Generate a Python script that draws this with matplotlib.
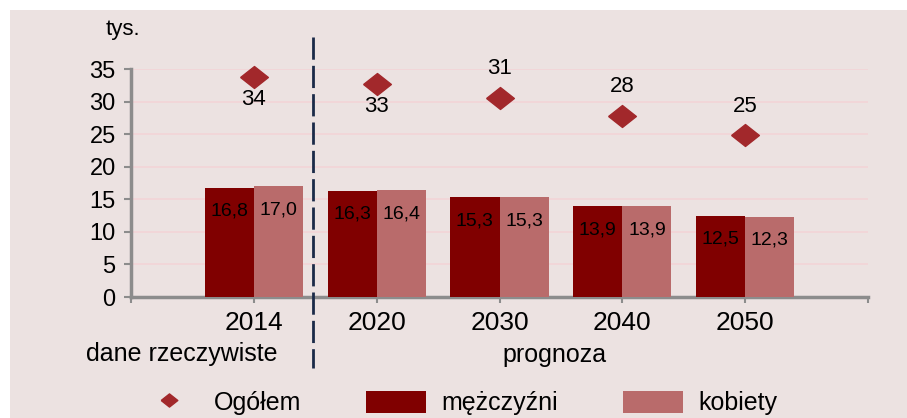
import matplotlib
matplotlib.use('Agg')
import matplotlib.pyplot as plt
from matplotlib.lines import Line2D
from matplotlib.patches import Patch, Rectangle
import matplotlib.transforms as mtransforms

plt.rcParams['font.family'] = ['Liberation Sans', 'DejaVu Sans']

### data
years = ['2014', '2020', '2030', '2040', '2050']
men = [16.8, 16.3, 15.3, 13.9, 12.5]
women = [17.0, 16.4, 15.3, 13.9, 12.3]
total = [33.8, 32.7, 30.6, 27.8, 24.8]
total_labels = ['34', '33', '31', '28', '25']

### colours
bg = '#ECE2E1'
c_men = '#800000'
c_women = '#B96B6B'
c_total = '#A2282B'
c_grid = '#F3D4D7'
c_axis = '#8C8C8C'

fig = plt.figure(figsize=(9.07, 4.18), dpi=100, facecolor='white')
fig.patches.append(Rectangle((10 / 907, 0), 1, 1 - 10 / 418, transform=fig.transFigure,
                             facecolor=bg, edgecolor='none', zorder=-10))

ax = fig.add_axes([131 / 907, 121 / 418, 737 / 907, 228 / 418])
ax.set_facecolor('none')

x = [i + 1 for i in range(len(years))]
w = 0.4
ax.bar([v - w / 2 for v in x], men, width=w, color=c_men, zorder=3)
ax.bar([v + w / 2 for v in x], women, width=w, color=c_women, zorder=3)

# bar value labels
for xi, m, f in zip(x, men, women):
    ax.annotate(('%.1f' % m).replace('.', ','), (xi - w / 2, m), xytext=(0, -17),
                textcoords='offset points', ha='center', va='center', fontsize=14, zorder=5)
    ax.annotate(('%.1f' % f).replace('.', ','), (xi + w / 2, f), xytext=(0, -17),
                textcoords='offset points', ha='center', va='center', fontsize=14, zorder=5)

# total diamonds
diamond = [(-1, 0), (0, 0.79), (1, 0), (0, -0.79), (-1, 0)]
ax.plot(x, total, ls='none', marker=diamond, ms=20, color=c_total, mec=c_total, zorder=4, clip_on=False)
for i, (xi, t, lab) in enumerate(zip(x, total, total_labels)):
    off = -16 if i < 2 else 21
    ax.annotate(lab, (xi, t), xytext=(0, off), textcoords='offset points',
                ha='center', va='center', fontsize=16, zorder=5)

### axes
ax.set_xlim(0, 6)
ax.set_ylim(0, 35)
ax.set_yticks(range(0, 36, 5))
ax.set_xticks(range(0, 7))
ax.set_xticklabels([''] + years + [''], fontsize=19)
ax.tick_params(axis='y', labelsize=17, length=5, width=1.5, color=c_axis, pad=6)
ax.tick_params(axis='x', length=4, width=1.5, color=c_axis, pad=6)
for sp in ['top', 'right']:
    ax.spines[sp].set_visible(False)
for sp in ['left', 'bottom']:
    ax.spines[sp].set_color(c_axis)
    ax.spines[sp].set_linewidth(2.5)
for yv in range(5, 36, 5):
    ax.axhline(yv, color=c_grid, lw=1.2, zorder=0)

### separator and group captions
trans = mtransforms.blended_transform_factory(ax.transData, ax.transAxes)
ax.add_line(Line2D([1.48, 1.48], [1.14, -0.31], transform=trans, color='#1B2A48', lw=2,
                   dashes=(8, 2.2), clip_on=False, zorder=6))
ax.text(1.19, -0.25, 'dane rzeczywiste', transform=trans, ha='right', va='center', fontsize=18)
ax.text(3.45, -0.255, 'prognoza', transform=trans, ha='center', va='center', fontsize=18)
fig.text(123 / 907, 1 - 30 / 418, 'tys.', ha='center', va='center', fontsize=16)

### legend
handles = [Line2D([], [], ls='none', marker=diamond, ms=12, color=c_total),
           Patch(facecolor=c_men), Patch(facecolor=c_women)]
fig.legend(handles, ['Ogółem', 'mężczyźni', 'kobiety'], loc='center', ncol=3,
           bbox_to_anchor=(0.505, 0.036), frameon=False, fontsize=18, handlelength=2.4,
           handleheight=1.0, handletextpad=0.6, columnspacing=2.6)

fig.savefig('out.png', dpi=100, facecolor='white')
